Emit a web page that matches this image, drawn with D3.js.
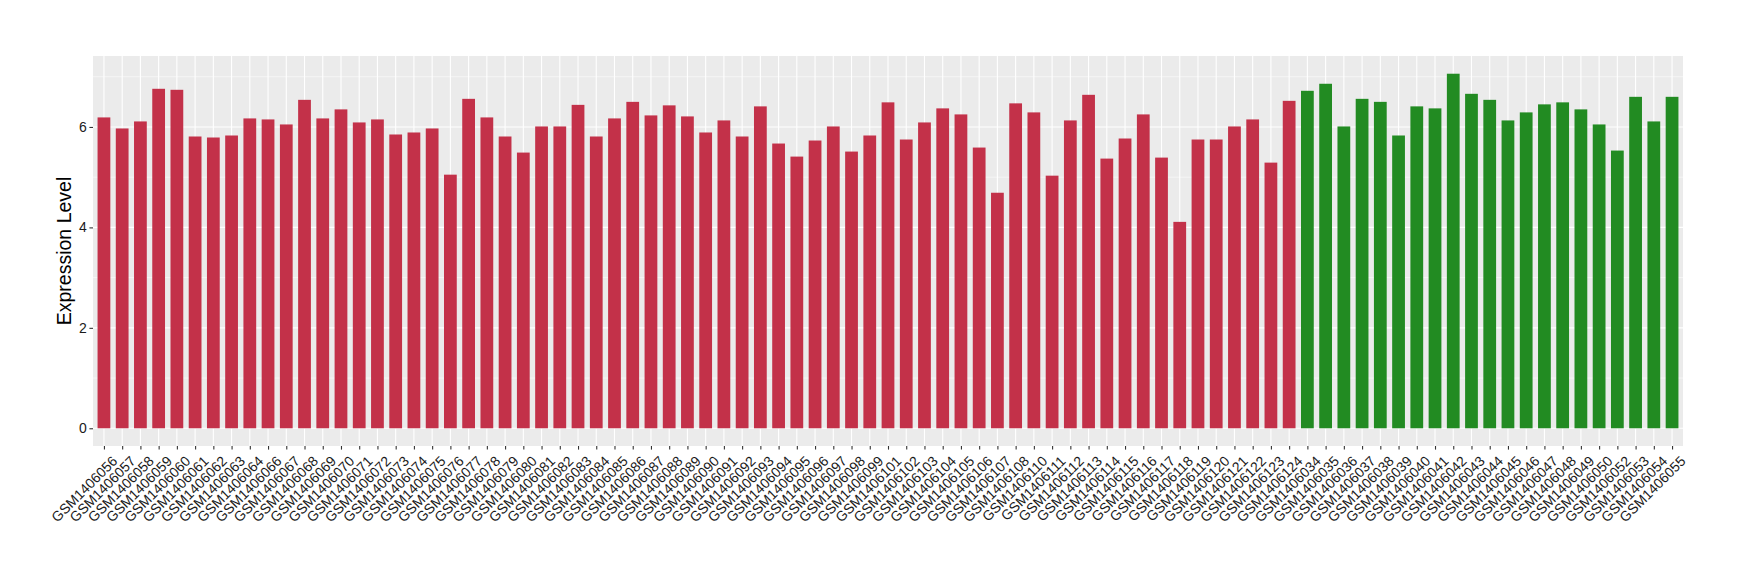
<!DOCTYPE html>
<html lang="en">
<head>
<meta charset="UTF-8">
<title>Expression Level</title>
<script src="https://d3js.org/d3.v7.min.js"></script>
<style>
    body{ margin:0; background:#fff; }
    svg text{ font-family:"Liberation Sans", Arial, sans-serif; }
    .axis path.domain{ display:none; }
    .axis line{ stroke:#333; stroke-width:1.1px; }
    .axis text{ fill:#1a1a1a; font-size:14px; }
</style>
</head>
<body>
<svg width="1740" height="580"></svg>
<script>
// group 1 (red) samples and values
const redSamples = ["GSM1406056","GSM1406057","GSM1406058","GSM1406059","GSM1406060","GSM1406061","GSM1406062","GSM1406063","GSM1406064","GSM1406066",
    "GSM1406067","GSM1406068","GSM1406069","GSM1406070","GSM1406071","GSM1406072","GSM1406073","GSM1406074","GSM1406075","GSM1406076",
    "GSM1406077","GSM1406078","GSM1406079","GSM1406080","GSM1406081","GSM1406082","GSM1406083","GSM1406084","GSM1406085","GSM1406086",
    "GSM1406087","GSM1406088","GSM1406089","GSM1406090","GSM1406091","GSM1406092","GSM1406093","GSM1406094","GSM1406095","GSM1406096",
    "GSM1406097","GSM1406098","GSM1406099","GSM1406101","GSM1406102","GSM1406103","GSM1406104","GSM1406105","GSM1406106","GSM1406107",
    "GSM1406108","GSM1406110","GSM1406111","GSM1406112","GSM1406113","GSM1406114","GSM1406115","GSM1406116","GSM1406117","GSM1406118",
    "GSM1406119","GSM1406120","GSM1406121","GSM1406122","GSM1406123","GSM1406124"];
const redValues = [6.19,5.97,6.11,6.76,6.74,5.81,5.79,5.83,6.17,6.15,
    6.05,6.54,6.17,6.35,6.09,6.15,5.85,5.89,5.97,5.05,
    6.56,6.19,5.81,5.49,6.01,6.01,6.44,5.81,6.17,6.50,
    6.23,6.43,6.21,5.89,6.13,5.81,6.41,5.67,5.41,5.73,
    6.01,5.51,5.83,6.49,5.75,6.09,6.37,6.25,5.59,4.69,
    6.47,6.29,5.03,6.13,6.64,5.37,5.77,6.25,5.39,4.11,
    5.75,5.75,6.01,6.15,5.29,6.52];

// group 2 (green) samples and values
const greenSamples = ["GSM1406034","GSM1406035","GSM1406036","GSM1406037","GSM1406038","GSM1406039","GSM1406040","GSM1406041","GSM1406042","GSM1406043",
    "GSM1406044","GSM1406045","GSM1406046","GSM1406047","GSM1406048","GSM1406049","GSM1406050","GSM1406052","GSM1406053","GSM1406054","GSM1406055"];
const greenValues = [6.72,6.86,6.01,6.56,6.50,5.83,6.41,6.37,7.06,6.66,
    6.54,6.13,6.29,6.45,6.49,6.35,6.05,5.53,6.60,6.11,6.60];

const yTicks = [0, 2, 4, 6];
const yMinor = [1, 3, 5, 7];

let data = redSamples.map((s, i) => ({sample: s, value: redValues[i], color: "#C33149"}))
    .concat(greenSamples.map((s, i) => ({sample: s, value: greenValues[i], color: "#228B22"})));

let svg = d3.select('svg');
let panel = {left: 93, right: 1683, top: 56, bottom: 446};

let xScale = d3.scalePoint()
    .domain(data.map(d => d.sample))
    .range([panel.left, panel.right])
    .padding(0.6);
let barW = xScale.step() * 0.7;

let maxV = d3.max(data, d => d.value);
let pad = maxV * 0.05;
let yScale = d3.scaleLinear().domain([-pad, maxV + pad]).range([panel.bottom, panel.top]);

// panel background
svg.append('rect')
    .attr('x', panel.left).attr('y', panel.top)
    .attr('width', panel.right - panel.left).attr('height', panel.bottom - panel.top)
    .attr('fill', '#EBEBEB');

// grid
let grid = svg.append('g');
grid.selectAll('line.minor').data(yMinor).join('line')
    .attr('x1', panel.left).attr('x2', panel.right)
    .attr('y1', d => yScale(d)).attr('y2', d => yScale(d))
    .attr('stroke', '#fff').attr('stroke-width', 0.55);
grid.selectAll('line.major').data(yTicks).join('line')
    .attr('x1', panel.left).attr('x2', panel.right)
    .attr('y1', d => yScale(d)).attr('y2', d => yScale(d))
    .attr('stroke', '#fff').attr('stroke-width', 1.1);
grid.selectAll('line.vert').data(data).join('line')
    .attr('x1', d => xScale(d.sample)).attr('x2', d => xScale(d.sample))
    .attr('y1', panel.top).attr('y2', panel.bottom)
    .attr('stroke', '#fff').attr('stroke-width', 1.1);

// bars
svg.append('g').selectAll('rect').data(data).join('rect')
    .attr('x', d => xScale(d.sample) - barW / 2)
    .attr('width', barW)
    .attr('y', d => yScale(d.value))
    .attr('height', d => yScale(0) - yScale(d.value))
    .attr('fill', d => d.color);

// axes
svg.append('g').attr('class', 'axis')
    .attr('transform', 'translate(' + panel.left + ',0)')
    .call(d3.axisLeft(yScale).tickValues(yTicks).tickSize(3.6).tickPadding(2.5));

let xAxis = svg.append('g').attr('class', 'axis')
    .attr('transform', 'translate(0,' + panel.bottom + ')')
    .call(d3.axisBottom(xScale).tickSize(3.6).tickPadding(2));
xAxis.selectAll('text')
    .attr('text-anchor', 'end')
    .attr('dy', '0.7em')
    .attr('transform', 'translate(3,5) rotate(-45)');

// y title
svg.append('text')
    .attr('transform', 'translate(66,' + ((panel.top + panel.bottom) / 2) + ') rotate(-90)')
    .attr('text-anchor', 'middle')
    .attr('dominant-baseline', 'middle')
    .attr('font-size', 19.5)
    .attr('fill', '#000')
    .text('Expression Level');
</script>
</body>
</html>
